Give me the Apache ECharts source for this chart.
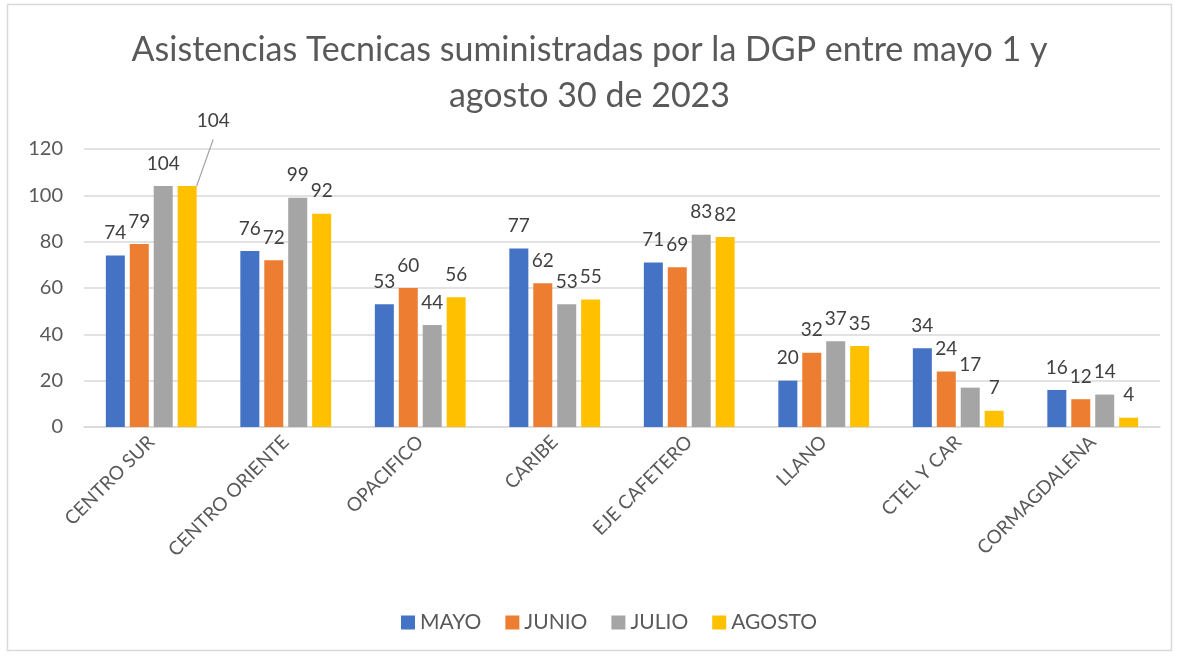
<!DOCTYPE html>
<html><head><meta charset="utf-8">
<script src="https://cdn.jsdelivr.net/npm/echarts@6/dist/echarts.min.js"></script>
<style>html,body{margin:0;padding:0;background:#fff}#c{width:1179px;height:657px}</style>
</head><body><div id="c"></div>
<script>
const categories = ['CENTRO SUR','CENTRO ORIENTE','OPACIFICO','CARIBE','EJE CAFETERO','LLANO','CTEL Y CAR','CORMAGDALENA'];
const mayo   = [74,76,53,77,71,20,34,16];
const junio  = [79,72,60,62,69,32,24,12];
const julio  = [104,99,44,53,83,37,17,14];
const agosto = [104,92,56,55,82,35,7,4];
const seriesNames = ['MAYO','JUNIO','JULIO','AGOSTO'];
const colors = ['#4472C4','#ED7D31','#A5A5A5','#FFC000'];
const yTicks = [0,20,40,60,80,100,120];

const FONT = 'Lato, "Open Sans", sans-serif';
const chart = echarts.init(document.getElementById('c'));
const all = [mayo, junio, julio, agosto];
const series = all.map((arr, i) => ({
  name: seriesNames[i],
  type: 'bar',
  barWidth: 19,
  barGap: '26%',
  itemStyle: { color: colors[i] },
  label: { show: true, position: 'top', distance: 13, color: '#404040', fontSize: 19, fontFamily: FONT },
  data: arr.map((v, j) => {
    if (i === 3 && j === 0) {
      return { value: v, label: { offset: [26, -43] }, labelLine: { show: true, lineStyle: { color: '#A5A5A5', width: 1.2 } } };
    }
    return v;
  })
}));

chart.setOption({
  animation: false,
  graphic: [{ type: 'rect', shape: { x: 7.5, y: 4.5, width: 1164, height: 646 }, style: { fill: 'none', stroke: '#d9d9d9', lineWidth: 1.5 } }],
  title: {
    text: 'Asistencias Tecnicas suministradas por la DGP entre mayo 1 y\nagosto 30 de 2023',
    left: 'center', top: 22,
    textStyle: { fontFamily: FONT, fontSize: 34, fontWeight: 'normal', color: '#595959', lineHeight: 46 }
  },
  legend: {
    bottom: 19, left: 396, itemWidth: 14, itemHeight: 14, itemGap: 24,
    icon: 'rect',
    textStyle: { fontFamily: FONT, fontSize: 21, color: '#595959' },
    data: seriesNames
  },
  grid: { left: 84, right: 19, top: 149, bottom: 230 },
  xAxis: {
    type: 'category', data: categories,
    axisLine: { lineStyle: { color: '#d9d9d9', width: 1.5 } },
    axisTick: { show: false },
    axisLabel: { rotate: 45, interval: 0, margin: 12, fontSize: 19, color: '#595959', fontFamily: FONT }
  },
  yAxis: {
    type: 'value', min: 0, max: 120, interval: 20,
    axisLine: { show: false }, axisTick: { show: false },
    splitLine: { lineStyle: { color: '#d9d9d9', width: 1.5 } },
    axisLabel: { fontSize: 20, color: '#595959', fontFamily: FONT, margin: 21,
      formatter: v => yTicks.includes(v) ? String(v) : '' }
  },
  series
});
</script></body></html>
